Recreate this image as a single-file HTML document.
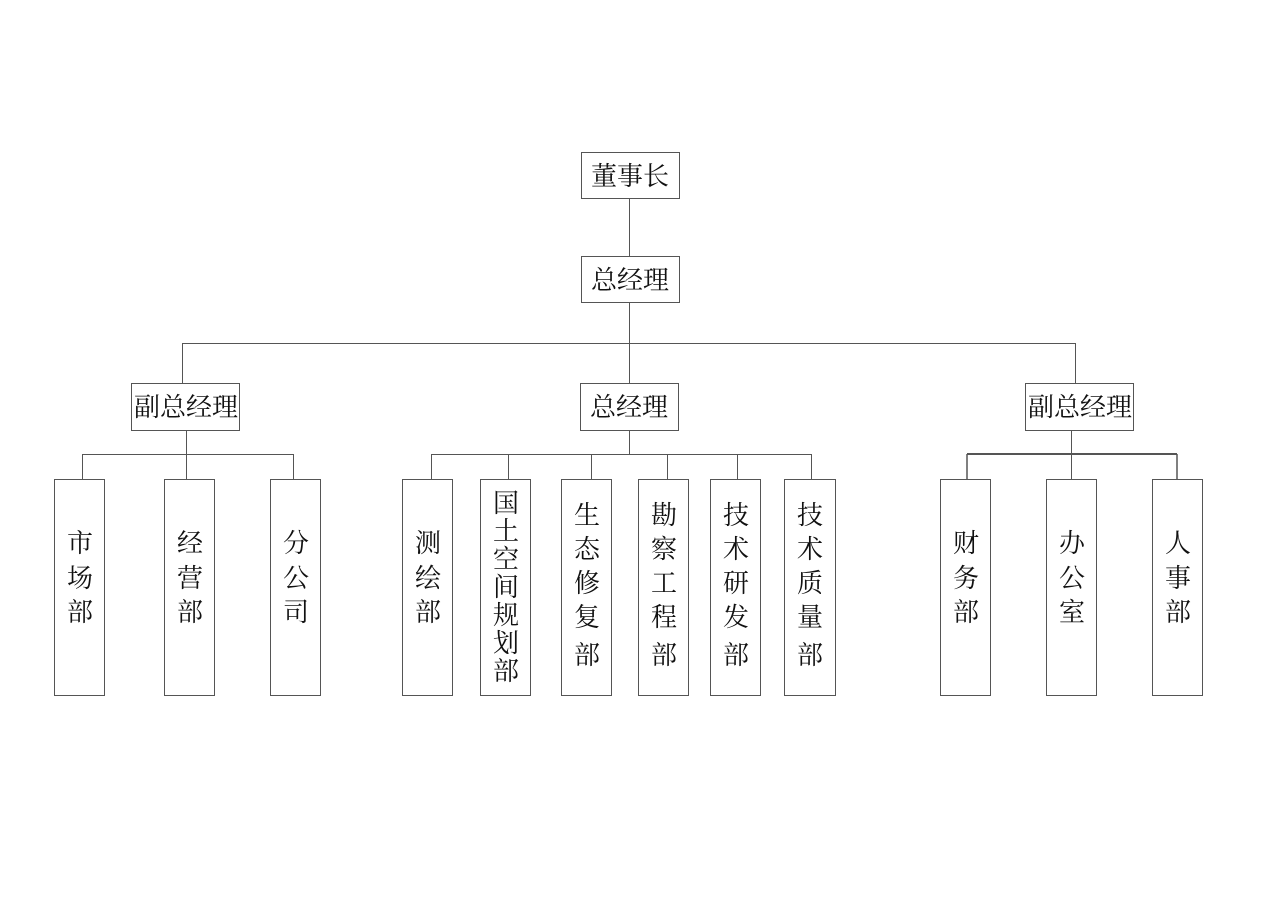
<!DOCTYPE html>
<html><head><meta charset="utf-8"><style>
html,body{margin:0;padding:0;background:#fff;}
svg text{font-family:"Liberation Serif","Noto Serif CJK SC","Noto Sans CJK SC",serif;font-size:26px;fill:#111;}
</style></head><body>
<svg width="1266" height="895" viewBox="0 0 1266 895" xmlns="http://www.w3.org/2000/svg">
<g stroke="#555" stroke-width="1" fill="none">
<rect x="581.5" y="152.5" width="98" height="46"/>
<rect x="581.5" y="256.5" width="98" height="46"/>
<line x1="629.5" y1="199" x2="629.5" y2="256"/>
<line x1="629.5" y1="303" x2="629.5" y2="383"/>
<line x1="182.5" y1="343.5" x2="1075.5" y2="343.5"/>
<line x1="182.5" y1="343" x2="182.5" y2="383"/>
<line x1="1075.5" y1="343" x2="1075.5" y2="383"/>
<rect x="131.5" y="383.5" width="108" height="47"/>
<rect x="580.5" y="383.5" width="98" height="47"/>
<rect x="1025.5" y="383.5" width="108" height="47"/>
<line x1="186.5" y1="431" x2="186.5" y2="479"/>
<line x1="82.5" y1="454.5" x2="293.5" y2="454.5"/>
<line x1="82.5" y1="454" x2="82.5" y2="479"/>
<line x1="293.5" y1="454" x2="293.5" y2="479"/>
<rect x="54.5" y="479.5" width="50" height="216"/>
<rect x="164.5" y="479.5" width="50" height="216"/>
<rect x="270.5" y="479.5" width="50" height="216"/>
<line x1="629.5" y1="431" x2="629.5" y2="454"/>
<line x1="431.5" y1="454.5" x2="811.5" y2="454.5"/>
<line x1="431.5" y1="454" x2="431.5" y2="479"/>
<line x1="508.5" y1="454" x2="508.5" y2="479"/>
<line x1="591.5" y1="454" x2="591.5" y2="479"/>
<line x1="667.5" y1="454" x2="667.5" y2="479"/>
<line x1="737.5" y1="454" x2="737.5" y2="479"/>
<line x1="811.5" y1="454" x2="811.5" y2="479"/>
<rect x="402.5" y="479.5" width="50" height="216"/>
<rect x="480.5" y="479.5" width="50" height="216"/>
<rect x="561.5" y="479.5" width="50" height="216"/>
<rect x="638.5" y="479.5" width="50" height="216"/>
<rect x="710.5" y="479.5" width="50" height="216"/>
<rect x="784.5" y="479.5" width="51" height="216"/>
<line x1="1071.5" y1="431" x2="1071.5" y2="479"/>
<line x1="967" y1="454" x2="1177" y2="454" stroke-width="2"/>
<line x1="967" y1="454" x2="967" y2="479" stroke-width="1.5"/>
<line x1="1177" y1="454" x2="1177" y2="479" stroke-width="1.5"/>
<rect x="940.5" y="479.5" width="50" height="216"/>
<rect x="1046.5" y="479.5" width="50" height="216"/>
<rect x="1152.5" y="479.5" width="50" height="216"/>
</g>
<g text-anchor="middle">
<text x="630" y="185">董事长</text>
<text x="630" y="289">总经理</text>
<text x="186" y="416">副总经理</text>
<text x="629" y="416">总经理</text>
<text x="1080" y="416">副总经理</text>
</g>
<g text-anchor="middle">
<text x="80" y="552">市</text><text x="80" y="587">场</text><text x="80" y="621">部</text>
<text x="190" y="552">经</text><text x="190" y="587">营</text><text x="190" y="621">部</text>
<text x="296" y="552">分</text><text x="296" y="587">公</text><text x="296" y="621">司</text>

<text x="428" y="552">测</text><text x="428" y="587">绘</text><text x="428" y="621">部</text>
<text x="506" y="512">国</text><text x="506" y="540">土</text><text x="506" y="568">空</text><text x="506" y="596">间</text><text x="506" y="624">规</text><text x="506" y="652">划</text><text x="506" y="680">部</text>
<text x="587" y="524">生</text><text x="587" y="558">态</text><text x="587" y="592">修</text><text x="587" y="626">复</text><text x="587" y="664">部</text>
<text x="664" y="524">勘</text><text x="664" y="558">察</text><text x="664" y="592">工</text><text x="664" y="626">程</text><text x="664" y="664">部</text>
<text x="736" y="524">技</text><text x="736" y="558">术</text><text x="736" y="592">研</text><text x="736" y="626">发</text><text x="736" y="664">部</text>
<text x="810" y="524">技</text><text x="810" y="558">术</text><text x="810" y="592">质</text><text x="810" y="626">量</text><text x="810" y="664">部</text>

<text x="966" y="552">财</text><text x="966" y="587">务</text><text x="966" y="621">部</text>
<text x="1072" y="552">办</text><text x="1072" y="587">公</text><text x="1072" y="621">室</text>
<text x="1178" y="552">人</text><text x="1178" y="587">事</text><text x="1178" y="621">部</text>
</g>
</svg>
</body></html>
